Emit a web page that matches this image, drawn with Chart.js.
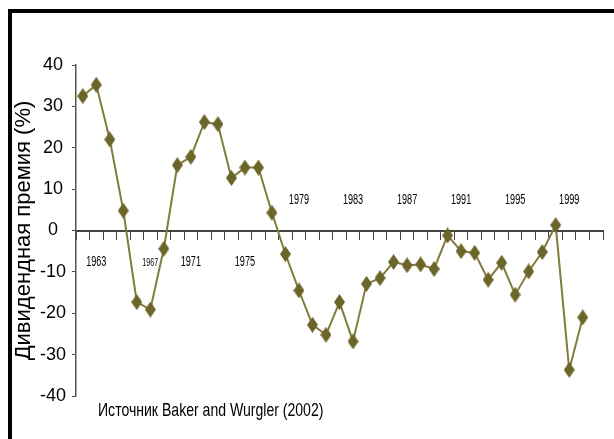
<!DOCTYPE html>
<html>
<head>
<meta charset="utf-8">
<script src="https://cdn.jsdelivr.net/npm/chart.js@4/dist/chart.umd.min.js"></script>
<style>
  html, body { margin: 0; padding: 0; background: #fff; }
  #wrap { position: relative; width: 614px; height: 439px; overflow: hidden; }
  #frame { position: absolute; left: 8px; top: 9px; right: -10px; bottom: -10px;
           border-top: 4px solid #000; border-left: 4px solid #000; }
  canvas { position: absolute; left: 0; top: 0; }
</style>
</head>
<body>
<div id="wrap">
  <div id="frame"></div>
  <canvas id="chart" width="614" height="439"></canvas>
</div>
<script>
// categories (one slot per year, last slot left empty as in the source)
const years = ['1962', '1963', '1964', '1965', '1966', '1967', '1968', '1969', '1970', '1971',
    '1972', '1973', '1974', '1975', '1976', '1977', '1978', '1979', '1980', '1981',
    '1982', '1983', '1984', '1985', '1986', '1987', '1988', '1989', '1990', '1991',
    '1992', '1993', '1994', '1995', '1996', '1997', '1998', '1999', '2000'];

// dividend premium, %
const premium = [32.5, 35.2, 22.0, 4.8, -17.3, -19.1, -4.4, 15.8, 17.8, 26.2,
    25.7, 12.7, 15.2, 15.2, 4.3, -5.7, -14.5, -22.8, -25.2, -17.3,
    -26.8, -12.9, -11.5, -7.6, -8.4, -8.2, -9.3, -1.2, -5.0, -5.4,
    -11.9, -7.8, -15.5, -9.9, -5.2, 1.3, -33.7, -21.0, null];

// year labels as printed on the picture, and the slot each one sits over
const xTickLabels = ['1963', '1967', '1971', '1975', '1979', '1983', '1987', '1991', '1995', '1999'];
const xTickAt = ['1963', '1967', '1970', '1974', '1978', '1982', '1986', '1990', '1994', '1998'];

const yTitle = 'Дивидендная премия (%)';
const sourceNote = 'Источник Baker and Wurgler (2002)';

const sans = '"Liberation Sans", Arial, sans-serif';

function diamond(w, h, color) {
    let c = document.createElement('canvas');
    c.width = w;
    c.height = h;
    let g = c.getContext('2d');
    g.fillStyle = color;
    g.beginPath();
    g.moveTo(w / 2, 0);
    g.lineTo(w, h / 2);
    g.lineTo(w / 2, h);
    g.lineTo(0, h / 2);
    g.closePath();
    g.fill();
    return c;
}

// condensed text, the picture uses a narrow face
function squeezed(ctx, text, x, y, sx) {
    ctx.save();
    ctx.translate(x, y);
    ctx.scale(sx, 1);
    ctx.fillText(text, 0, 0);
    ctx.restore();
}

const yearLabels = {
    id: 'yearLabels',
    afterDatasetsDraw(chart) {
        const {ctx, chartArea, scales: {x, y}} = chart;
        const y0 = y.getPixelForValue(0);
        ctx.save();
        ctx.fillStyle = '#000';
        ctx.textAlign = 'center';
        ctx.textBaseline = 'middle';
        xTickLabels.forEach((text, i) => {
            const px = x.getPixelForValue(years.indexOf(xTickAt[i]));
            const py = i < 4 ? y0 + 32 : y0 - 30;
            ctx.font = (text === '1967' ? 11 : 14) + 'px ' + sans;
            squeezed(ctx, text, px, py, 0.65);
        });
        ctx.font = '19px ' + sans;
        ctx.textAlign = 'left';
        squeezed(ctx, sourceNote, chartArea.left + 22, chartArea.bottom + 15, 0.74);
        ctx.restore();
    }
};

new Chart(document.getElementById('chart'), {
    type: 'line',
    data: {
        labels: years,
        datasets: [{
            data: premium,
            borderColor: '#827c3c',
            borderWidth: 2,
            tension: 0,
            pointStyle: diamond(11, 16, '#6b6529'),
            pointRadius: 6,
            pointHoverRadius: 6
        }]
    },
    options: {
        responsive: false,
        animation: false,
        devicePixelRatio: 1,
        layout: {padding: {left: 0, top: 65, right: 11, bottom: 43}},
        plugins: {legend: {display: false}, tooltip: {enabled: false}},
        scales: {
            x: {
                position: {y: 0},
                offset: true,
                grid: {offset: true, drawOnChartArea: false, drawTicks: true, tickLength: 8, color: '#444', lineWidth: 1},
                border: {display: true, color: '#444', width: 2},
                ticks: {display: false, autoSkip: false}
            },
            y: {
                min: -40,
                max: 40,
                afterFit: s => { s.width = 76; },
                grid: {drawOnChartArea: false, tickLength: 4, color: '#444'},
                border: {display: true, color: '#555', width: 1.5},
                ticks: {stepSize: 10, color: '#000', crossAlign: 'center', padding: 6, font: {family: sans, size: 18}},
                title: {display: true, text: yTitle, color: '#000', padding: {top: 11, bottom: 0}, font: {family: sans, size: 22}}
            }
        }
    },
    plugins: [yearLabels]
});
</script>
</body>
</html>
